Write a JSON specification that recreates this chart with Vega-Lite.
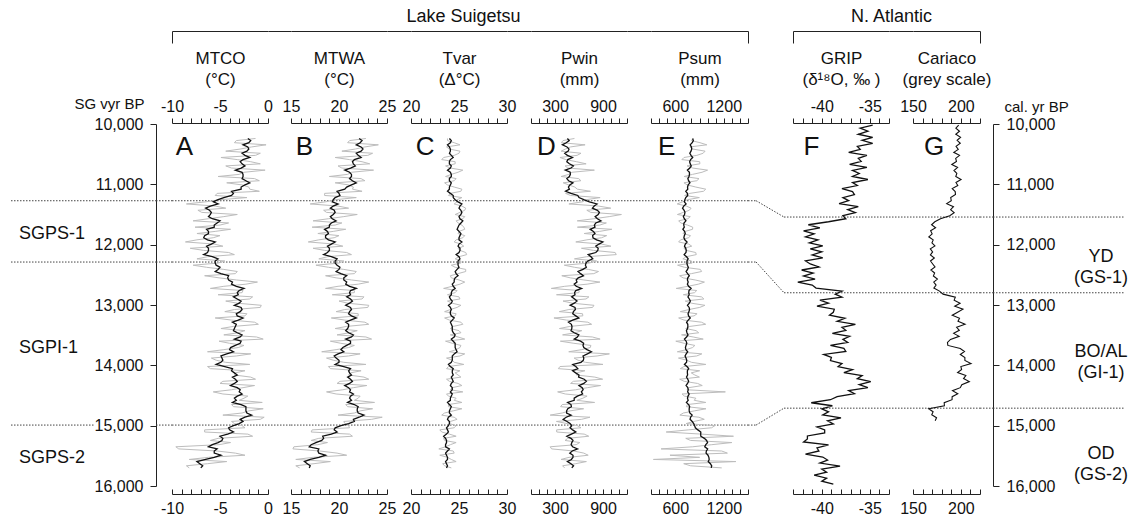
{
"$schema": "https://vega.github.io/schema/vega-lite/v6.json",
"padding": {"left": 10, "top": 7, "right": 0, "bottom": 0},
"background": "white",
"spacing": 0,
"bounds": "flush",
"resolve": {"scale": {"x": "independent", "y": "independent"}},
"config": {
  "font": "Liberation Sans",
  "view": {"stroke": null},
  "axis": {"domainColor": "#222", "tickColor": "#222", "labelColor": "#111", "labelFontSize": 16, "titleFontSize": 17, "titleFontWeight": "normal", "titleColor": "#111", "titleLineHeight": 21, "grid": false, "labelFlush": false, "labelOverlap": false, "domainWidth": 1, "tickWidth": 1},
  "text": {"color": "#111"}
},
"datasets": {
  "bounds": [{"id": 1, "sg": 11272, "cal": 11542}, {"id": 2, "sg": 12288, "cal": 12797}, {"id": 3, "sg": 14990, "cal": 14710}],
  "zones_sg": [{"label": "SGPS-1", "age": 11830}, {"label": "SGPI-1", "age": 13713}, {"label": "SGPS-2", "age": 15536}],
  "zones_cal": [{"label": "YD\n(GS-1)", "age": 12205}, {"label": "BO/AL\n(GI-1)", "age": 13787}, {"label": "OD\n(GS-2)", "age": 15470}],
  "sg": [
{"age":10240,"mtco":-1.3,"mtco_s":-2.1,"mtwa":22.8,"mtwa_s":22.1,"tvar":23.8,"tvar_s":24.0,"pwin":543,"pwin_s":455,"psum":821,"psum_s":815},
{"age":10310,"mtco":-3.5,"mtco_s":-2.0,"mtwa":20.9,"mtwa_s":22.2,"tvar":24.5,"tvar_s":24.1,"pwin":380,"pwin_s":440,"psum":906,"psum_s":810},
{"age":10380,"mtco":-1.7,"mtco_s":-2.1,"mtwa":22.7,"mtwa_s":22.3,"tvar":23.7,"tvar_s":24.0,"pwin":494,"pwin_s":450,"psum":782,"psum_s":800},
{"age":10450,"mtco":-4.4,"mtco_s":-2.2,"mtwa":20.3,"mtwa_s":22.3,"tvar":25.1,"tvar_s":24.1,"pwin":377,"pwin_s":465,"psum":969,"psum_s":795},
{"age":10520,"mtco":-1.3,"mtco_s":-2.4,"mtwa":23.0,"mtwa_s":22.0,"tvar":24.5,"tvar_s":24.2,"pwin":576,"pwin_s":455,"psum":867,"psum_s":795},
{"age":10590,"mtco":-3.2,"mtco_s":-2.6,"mtwa":21.1,"mtwa_s":21.6,"tvar":23.2,"tvar_s":24.1,"pwin":436,"pwin_s":460,"psum":682,"psum_s":790},
{"age":10660,"mtco":-0.8,"mtco_s":-2.7,"mtwa":23.2,"mtwa_s":21.5,"tvar":24.6,"tvar_s":24.0,"pwin":689,"pwin_s":480,"psum":905,"psum_s":785},
{"age":10730,"mtco":-3.8,"mtco_s":-2.8,"mtwa":20.3,"mtwa_s":21.2,"tvar":24.1,"tvar_s":24.1,"pwin":460,"pwin_s":500,"psum":816,"psum_s":780},
{"age":10800,"mtco":-2.5,"mtco_s":-2.7,"mtwa":21.3,"mtwa_s":21.1,"tvar":24.9,"tvar_s":24.1,"pwin":512,"pwin_s":490,"psum":931,"psum_s":775},
{"age":10870,"mtco":-5.2,"mtco_s":-2.6,"mtwa":19.0,"mtwa_s":21.3,"tvar":23.6,"tvar_s":24.2,"pwin":376,"pwin_s":480,"psum":710,"psum_s":770},
{"age":10940,"mtco":-0.9,"mtco_s":-2.3,"mtwa":22.7,"mtwa_s":21.4,"tvar":24.5,"tvar_s":24.0,"pwin":624,"pwin_s":470,"psum":867,"psum_s":765},
{"age":11010,"mtco":-2.7,"mtco_s":-2.4,"mtwa":21.0,"mtwa_s":21.3,"tvar":23.8,"tvar_s":24.1,"pwin":473,"pwin_s":485,"psum":748,"psum_s":760},
{"age":11080,"mtco":-1.9,"mtco_s":-2.8,"mtwa":21.4,"mtwa_s":20.6,"tvar":25.3,"tvar_s":24.0,"pwin":579,"pwin_s":480,"psum":977,"psum_s":755},
{"age":11150,"mtco":-5.3,"mtco_s":-3.6,"mtwa":18.5,"mtwa_s":20.0,"tvar":24.1,"tvar_s":24.1,"pwin":432,"pwin_s":500,"psum":780,"psum_s":750},
{"age":11220,"mtco":-2.2,"mtco_s":-4.6,"mtwa":21.8,"mtwa_s":19.6,"tvar":25.3,"tvar_s":24.4,"pwin":864,"pwin_s":600,"psum":898,"psum_s":730},
{"age":11290,"mtco":-6.5,"mtco_s":-5.7,"mtwa":18.6,"mtwa_s":19.3,"tvar":24.8,"tvar_s":24.9,"pwin":642,"pwin_s":730,"psum":692,"psum_s":712},
{"age":11360,"mtco":-5.5,"mtco_s":-6.0,"mtwa":19.9,"mtwa_s":19.4,"tvar":25.3,"tvar_s":25.1,"pwin":845,"pwin_s":790,"psum":737,"psum_s":705},
{"age":11430,"mtco":-7.3,"mtco_s":-6.1,"mtwa":18.4,"mtwa_s":19.5,"tvar":25.6,"tvar_s":25.2,"pwin":698,"pwin_s":830,"psum":774,"psum_s":710},
{"age":11500,"mtco":-3.2,"mtco_s":-6.0,"mtwa":21.9,"mtwa_s":19.4,"tvar":24.6,"tvar_s":25.2,"pwin":1130,"pwin_s":840,"psum":627,"psum_s":715},
{"age":11570,"mtco":-6.2,"mtco_s":-5.8,"mtwa":18.9,"mtwa_s":19.3,"tvar":25.4,"tvar_s":25.1,"pwin":786,"pwin_s":830,"psum":756,"psum_s":712},
{"age":11640,"mtco":-4.1,"mtco_s":-5.3,"mtwa":20.3,"mtwa_s":19.2,"tvar":24.9,"tvar_s":25.2,"pwin":942,"pwin_s":810,"psum":668,"psum_s":708},
{"age":11710,"mtco":-7.6,"mtco_s":-5.6,"mtwa":17.2,"mtwa_s":19.0,"tvar":25.5,"tvar_s":24.9,"pwin":580,"pwin_s":800,"psum":816,"psum_s":712},
{"age":11780,"mtco":-5.5,"mtco_s":-6.2,"mtwa":19.4,"mtwa_s":18.8,"tvar":25.0,"tvar_s":25.0,"pwin":857,"pwin_s":780,"psum":723,"psum_s":715},
{"age":11850,"mtco":-5.0,"mtco_s":-6.6,"mtwa":20.0,"mtwa_s":18.6,"tvar":25.6,"tvar_s":25.1,"pwin":946,"pwin_s":770,"psum":788,"psum_s":712},
{"age":11920,"mtco":-7.4,"mtco_s":-6.3,"mtwa":17.9,"mtwa_s":18.9,"tvar":24.7,"tvar_s":25.0,"pwin":699,"pwin_s":820,"psum":666,"psum_s":718},
{"age":11990,"mtco":-5.6,"mtco_s":-5.9,"mtwa":19.5,"mtwa_s":19.2,"tvar":25.2,"tvar_s":25.0,"pwin":883,"pwin_s":850,"psum":765,"psum_s":725},
{"age":12060,"mtco":-8.1,"mtco_s":-6.2,"mtwa":17.3,"mtwa_s":19.0,"tvar":24.9,"tvar_s":25.1,"pwin":631,"pwin_s":840,"psum":706,"psum_s":730},
{"age":12130,"mtco":-4.1,"mtco_s":-6.3,"mtwa":20.8,"mtwa_s":18.8,"tvar":25.7,"tvar_s":25.0,"pwin":1052,"pwin_s":810,"psum":853,"psum_s":733},
{"age":12200,"mtco":-6.3,"mtco_s":-5.8,"mtwa":18.8,"mtwa_s":19.2,"tvar":25.0,"tvar_s":25.0,"pwin":695,"pwin_s":750,"psum":736,"psum_s":740},
{"age":12270,"mtco":-4.5,"mtco_s":-5.5,"mtwa":20.5,"mtwa_s":19.6,"tvar":25.2,"tvar_s":24.9,"pwin":820,"pwin_s":710,"psum":801,"psum_s":745},
{"age":12340,"mtco":-7.8,"mtco_s":-5.4,"mtwa":17.6,"mtwa_s":19.8,"tvar":24.2,"tvar_s":24.9,"pwin":416,"pwin_s":680,"psum":629,"psum_s":750},
{"age":12410,"mtco":-4.6,"mtco_s":-5.2,"mtwa":20.5,"mtwa_s":20.0,"tvar":25.7,"tvar_s":24.8,"pwin":716,"pwin_s":650,"psum":911,"psum_s":752},
{"age":12480,"mtco":-3.4,"mtco_s":-4.9,"mtwa":21.6,"mtwa_s":20.2,"tvar":24.9,"tvar_s":24.7,"pwin":785,"pwin_s":620,"psum":800,"psum_s":753},
{"age":12550,"mtco":-5.1,"mtco_s":-4.2,"mtwa":19.7,"mtwa_s":20.5,"tvar":24.2,"tvar_s":24.6,"pwin":491,"pwin_s":590,"psum":697,"psum_s":755},
{"age":12620,"mtco":-1.1,"mtco_s":-3.7,"mtwa":23.1,"mtwa_s":20.8,"tvar":25.6,"tvar_s":24.5,"pwin":861,"pwin_s":575,"psum":961,"psum_s":760},
{"age":12690,"mtco":-4.6,"mtco_s":-3.3,"mtwa":19.9,"mtwa_s":21.1,"tvar":24.3,"tvar_s":24.4,"pwin":422,"pwin_s":565,"psum":756,"psum_s":765},
{"age":12760,"mtco":-2.6,"mtco_s":-3.0,"mtwa":21.6,"mtwa_s":21.2,"tvar":24.8,"tvar_s":24.3,"pwin":604,"pwin_s":560,"psum":866,"psum_s":770},
{"age":12830,"mtco":-5.2,"mtco_s":-3.1,"mtwa":19.3,"mtwa_s":21.2,"tvar":23.8,"tvar_s":24.2,"pwin":319,"pwin_s":550,"psum":700,"psum_s":772},
{"age":12900,"mtco":-1.9,"mtco_s":-3.2,"mtwa":22.4,"mtwa_s":21.2,"tvar":25.1,"tvar_s":24.1,"pwin":688,"pwin_s":545,"psum":954,"psum_s":774},
{"age":12970,"mtco":-3.2,"mtco_s":-3.0,"mtwa":20.9,"mtwa_s":21.1,"tvar":24.3,"tvar_s":24.2,"pwin":518,"pwin_s":540,"psum":800,"psum_s":774},
{"age":13040,"mtco":-0.8,"mtco_s":-2.8,"mtwa":23.0,"mtwa_s":21.2,"tvar":24.8,"tvar_s":24.1,"pwin":770,"pwin_s":550,"psum":903,"psum_s":772},
{"age":13110,"mtco":-4.5,"mtco_s":-2.9,"mtwa":19.7,"mtwa_s":21.1,"tvar":23.5,"tvar_s":24.1,"pwin":354,"pwin_s":530,"psum":663,"psum_s":770},
{"age":13180,"mtco":-2.4,"mtco_s":-3.2,"mtwa":22.0,"mtwa_s":21.3,"tvar":24.6,"tvar_s":24.2,"pwin":648,"pwin_s":560,"psum":833,"psum_s":765},
{"age":13250,"mtco":-3.8,"mtco_s":-3.1,"mtwa":20.6,"mtwa_s":21.2,"tvar":24.0,"tvar_s":24.3,"pwin":443,"pwin_s":520,"psum":709,"psum_s":760},
{"age":13320,"mtco":-1.0,"mtco_s":-3.3,"mtwa":23.1,"mtwa_s":21.0,"tvar":25.4,"tvar_s":24.2,"pwin":758,"pwin_s":505,"psum":977,"psum_s":755},
{"age":13390,"mtco":-4.9,"mtco_s":-3.5,"mtwa":19.6,"mtwa_s":20.9,"tvar":24.1,"tvar_s":24.3,"pwin":356,"pwin_s":510,"psum":729,"psum_s":752},
{"age":13460,"mtco":-3.1,"mtco_s":-3.2,"mtwa":21.1,"mtwa_s":21.0,"tvar":25.2,"tvar_s":24.4,"pwin":551,"pwin_s":540,"psum":890,"psum_s":745},
{"age":13530,"mtco":-1.2,"mtco_s":-2.9,"mtwa":22.8,"mtwa_s":21.3,"tvar":24.9,"tvar_s":24.5,"pwin":767,"pwin_s":580,"psum":822,"psum_s":740},
{"age":13600,"mtco":-5.1,"mtco_s":-2.8,"mtwa":19.1,"mtwa_s":21.2,"tvar":23.6,"tvar_s":24.4,"pwin":367,"pwin_s":620,"psum":607,"psum_s":735},
{"age":13670,"mtco":-2.5,"mtco_s":-3.4,"mtwa":21.6,"mtwa_s":20.8,"tvar":25.2,"tvar_s":24.6,"pwin":749,"pwin_s":650,"psum":843,"psum_s":733},
{"age":13740,"mtco":-4.6,"mtco_s":-4.0,"mtwa":19.7,"mtwa_s":20.2,"tvar":24.7,"tvar_s":24.7,"pwin":634,"pwin_s":700,"psum":737,"psum_s":732},
{"age":13810,"mtco":-1.8,"mtco_s":-4.3,"mtwa":22.2,"mtwa_s":19.9,"tvar":25.6,"tvar_s":24.5,"pwin":980,"pwin_s":705,"psum":929,"psum_s":735},
{"age":13880,"mtco":-5.9,"mtco_s":-4.8,"mtwa":18.7,"mtwa_s":19.7,"tvar":23.7,"tvar_s":24.3,"pwin":539,"pwin_s":660,"psum":640,"psum_s":733},
{"age":13950,"mtco":-4.4,"mtco_s":-4.9,"mtwa":20.5,"mtwa_s":20.0,"tvar":24.5,"tvar_s":24.2,"pwin":680,"pwin_s":625,"psum":801,"psum_s":740},
{"age":14020,"mtco":-6.3,"mtco_s":-4.5,"mtwa":18.9,"mtwa_s":20.5,"tvar":23.9,"tvar_s":24.1,"pwin":362,"pwin_s":560,"psum":708,"psum_s":745},
{"age":14090,"mtco":-2.4,"mtco_s":-3.8,"mtwa":22.3,"mtwa_s":21.0,"tvar":25.1,"tvar_s":24.3,"pwin":674,"pwin_s":520,"psum":902,"psum_s":750},
{"age":14160,"mtco":-3.5,"mtco_s":-3.2,"mtwa":21.0,"mtwa_s":21.3,"tvar":24.9,"tvar_s":24.4,"pwin":567,"pwin_s":600,"psum":842,"psum_s":753},
{"age":14230,"mtco":-1.3,"mtco_s":-3.4,"mtwa":23.1,"mtwa_s":21.2,"tvar":23.7,"tvar_s":24.3,"pwin":896,"pwin_s":665,"psum":655,"psum_s":755},
{"age":14300,"mtco":-5.0,"mtco_s":-3.5,"mtwa":19.8,"mtwa_s":21.1,"tvar":24.9,"tvar_s":24.2,"pwin":495,"pwin_s":660,"psum":876,"psum_s":752},
{"age":14370,"mtco":-2.6,"mtco_s":-3.2,"mtwa":21.5,"mtwa_s":21.0,"tvar":24.3,"tvar_s":24.3,"pwin":706,"pwin_s":640,"psum":767,"psum_s":755},
{"age":14440,"mtco":-5.7,"mtco_s":-3.0,"mtwa":18.7,"mtwa_s":21.1,"tvar":25.4,"tvar_s":24.1,"pwin":333,"pwin_s":630,"psum":1220,"psum_s":753},
{"age":14510,"mtco":-2.1,"mtco_s":-3.2,"mtwa":22.2,"mtwa_s":21.2,"tvar":23.9,"tvar_s":24.2,"pwin":701,"pwin_s":580,"psum":714,"psum_s":758},
{"age":14580,"mtco":-3.0,"mtco_s":-3.3,"mtwa":21.6,"mtwa_s":21.3,"tvar":24.5,"tvar_s":24.1,"pwin":573,"pwin_s":540,"psum":835,"psum_s":760},
{"age":14650,"mtco":-3.8,"mtco_s":-2.8,"mtwa":20.7,"mtwa_s":21.6,"tvar":23.9,"tvar_s":24.0,"pwin":390,"pwin_s":500,"psum":749,"psum_s":765},
{"age":14720,"mtco":-0.5,"mtco_s":-2.3,"mtwa":23.5,"mtwa_s":21.9,"tvar":25.3,"tvar_s":24.1,"pwin":658,"pwin_s":460,"psum":980,"psum_s":772},
{"age":14790,"mtco":-2.7,"mtco_s":-2.2,"mtwa":21.6,"mtwa_s":22.0,"tvar":23.5,"tvar_s":24.0,"pwin":390,"pwin_s":445,"psum":701,"psum_s":780},
{"age":14860,"mtco":-0.4,"mtco_s":-2.4,"mtwa":24.5,"mtwa_s":22.1,"tvar":24.5,"tvar_s":23.9,"pwin":737,"pwin_s":440,"psum":893,"psum_s":790},
{"age":14930,"mtco":-3.8,"mtco_s":-2.6,"mtwa":20.5,"mtwa_s":21.6,"tvar":24.1,"tvar_s":24.0,"pwin":318,"pwin_s":450,"psum":829,"psum_s":810},
{"age":15000,"mtco":-2.7,"mtco_s":-3.6,"mtwa":21.0,"mtwa_s":20.2,"tvar":24.7,"tvar_s":23.9,"pwin":580,"pwin_s":510,"psum":1090,"psum_s":840},
{"age":15070,"mtco":-6.6,"mtco_s":-4.0,"mtwa":17.2,"mtwa_s":19.5,"tvar":23.0,"tvar_s":23.8,"pwin":320,"pwin_s":520,"psum":760,"psum_s":880},
{"age":15140,"mtco":-2.1,"mtco_s":-4.2,"mtwa":21.1,"mtwa_s":19.2,"tvar":24.0,"tvar_s":23.7,"pwin":665,"pwin_s":505,"psum":925,"psum_s":915},
{"age":15210,"mtco":-5.2,"mtco_s":-4.7,"mtwa":17.9,"mtwa_s":18.4,"tvar":23.4,"tvar_s":23.6,"pwin":460,"pwin_s":500,"psum":730,"psum_s":960},
{"age":15280,"mtco":-3.9,"mtco_s":-5.2,"mtwa":18.8,"mtwa_s":17.6,"tvar":24.7,"tvar_s":23.7,"pwin":610,"pwin_s":510,"psum":1300,"psum_s":1000},
{"age":15350,"mtco":-9.6,"mtco_s":-6.2,"mtwa":15.3,"mtwa_s":16.9,"tvar":23.6,"tvar_s":23.6,"pwin":240,"pwin_s":520,"psum":815,"psum_s":965},
{"age":15420,"mtco":-5.3,"mtco_s":-5.6,"mtwa":18.0,"mtwa_s":17.8,"tvar":24.4,"tvar_s":23.8,"pwin":535,"pwin_s":515,"psum":1175,"psum_s":985},
{"age":15490,"mtco":-2.4,"mtco_s":-4.9,"mtwa":20.8,"mtwa_s":18.6,"tvar":23.0,"tvar_s":23.7,"pwin":715,"pwin_s":525,"psum":535,"psum_s":1005},
{"age":15560,"mtco":-8.2,"mtco_s":-6.5,"mtwa":15.5,"mtwa_s":17.0,"tvar":24.2,"tvar_s":23.8,"pwin":375,"pwin_s":505,"psum":330,"psum_s":1020},
{"age":15630,"mtco":-6.3,"mtco_s":-7.1,"mtwa":17.4,"mtwa_s":16.7,"tvar":23.3,"tvar_s":23.7,"pwin":560,"pwin_s":500,"psum":705,"psum_s":1035},
{"age":15700,"mtco":-8.2,"mtco_s":-7.0,"mtwa":15.9,"mtwa_s":16.9,"tvar":24.2,"tvar_s":23.7,"pwin":420,"pwin_s":510,"psum":1175,"psum_s":1045},
{"age":10275,"mtco":-3.3,"mtco_s":-1.8,"mtwa":21.1,"mtwa_s":22.4,"tvar":23.8,"tvar_s":24.2,"pwin":400,"pwin_s":478,"psum":800,"psum_s":824},
{"age":10345,"mtco":-0.2,"mtco_s":-2.6,"mtwa":24.1,"mtwa_s":21.8,"tvar":25.1,"tvar_s":23.8,"pwin":676,"pwin_s":392,"psum":991,"psum_s":784},
{"age":10415,"mtco":-2.9,"mtco_s":-2.0,"mtwa":21.7,"mtwa_s":22.5,"tvar":24.0,"tvar_s":24.1,"pwin":430,"pwin_s":475,"psum":816,"psum_s":804},
{"age":10485,"mtco":-0.8,"mtco_s":-2.7,"mtwa":23.5,"mtwa_s":21.8,"tvar":25.0,"tvar_s":24.0,"pwin":625,"pwin_s":422,"psum":945,"psum_s":780},
{"age":10555,"mtco":-4.9,"mtco_s":-1.9,"mtwa":19.6,"mtwa_s":22.3,"tvar":23.4,"tvar_s":24.4,"pwin":362,"pwin_s":518,"psum":708,"psum_s":816},
{"age":10625,"mtco":-1.8,"mtco_s":-2.9,"mtwa":22.4,"mtwa_s":21.4,"tvar":24.6,"tvar_s":24.0,"pwin":569,"pwin_s":448,"psum":902,"psum_s":778},
{"age":10695,"mtco":-4.4,"mtco_s":-2.4,"mtwa":19.9,"mtwa_s":21.7,"tvar":23.6,"tvar_s":24.2,"pwin":426,"pwin_s":530,"psum":746,"psum_s":798},
{"age":10765,"mtco":-0.3,"mtco_s":-3.4,"mtwa":23.6,"mtwa_s":20.6,"tvar":25.4,"tvar_s":23.8,"pwin":792,"pwin_s":428,"psum":1000,"psum_s":750},
{"age":10835,"mtco":-3.0,"mtco_s":-2.6,"mtwa":20.9,"mtwa_s":21.3,"tvar":24.2,"tvar_s":24.2,"pwin":473,"pwin_s":492,"psum":814,"psum_s":776},
{"age":10905,"mtco":-1.4,"mtco_s":-2.7,"mtwa":22.3,"mtwa_s":21.1,"tvar":24.7,"tvar_s":24.0,"pwin":596,"pwin_s":448,"psum":894,"psum_s":756},
{"age":10975,"mtco":-4.3,"mtco_s":-1.9,"mtwa":19.6,"mtwa_s":21.8,"tvar":23.5,"tvar_s":24.2,"pwin":402,"pwin_s":525,"psum":708,"psum_s":782},
{"age":11045,"mtco":-2.0,"mtco_s":-2.8,"mtwa":21.5,"mtwa_s":20.8,"tvar":24.5,"tvar_s":24.0,"pwin":548,"pwin_s":468,"psum":854,"psum_s":752},
{"age":11115,"mtco":-0.9,"mtco_s":-3.8,"mtwa":22.4,"mtwa_s":19.8,"tvar":25.2,"tvar_s":23.8,"pwin":743,"pwin_s":432,"psum":950,"psum_s":730},
{"age":11185,"mtco":-5.5,"mtco_s":-3.8,"mtwa":18.5,"mtwa_s":20.1,"tvar":23.9,"tvar_s":24.4,"pwin":494,"pwin_s":585,"psum":716,"psum_s":754},
{"age":11255,"mtco":-5.0,"mtco_s":-5.2,"mtwa":19.6,"mtwa_s":19.4,"tvar":24.8,"tvar_s":24.6,"pwin":687,"pwin_s":660,"psum":749,"psum_s":719},
{"age":11325,"mtco":-8.5,"mtco_s":-5.2,"mtwa":17.0,"mtwa_s":19.9,"tvar":24.5,"tvar_s":25.3,"pwin":474,"pwin_s":825,"psum":624,"psum_s":734},
{"age":11395,"mtco":-4.4,"mtco_s":-6.5,"mtwa":21.0,"mtwa_s":19.1,"tvar":25.7,"tvar_s":25.0,"pwin":997,"pwin_s":768,"psum":796,"psum_s":690},
{"age":11465,"mtco":-6.9,"mtco_s":-5.9,"mtwa":18.7,"mtwa_s":19.6,"tvar":25.1,"tvar_s":25.3,"pwin":747,"pwin_s":855,"psum":700,"psum_s":720},
{"age":11535,"mtco":-4.6,"mtco_s":-6.2,"mtwa":20.5,"mtwa_s":19.1,"tvar":25.6,"tvar_s":25.0,"pwin":978,"pwin_s":802,"psum":786,"psum_s":700},
{"age":11605,"mtco":-7.8,"mtco_s":-5.0,"mtwa":17.3,"mtwa_s":19.7,"tvar":24.7,"tvar_s":25.4,"pwin":578,"pwin_s":875,"psum":642,"psum_s":732},
{"age":11675,"mtco":-5.0,"mtco_s":-5.6,"mtwa":19.6,"mtwa_s":19.0,"tvar":25.3,"tvar_s":25.0,"pwin":860,"pwin_s":792,"psum":750,"psum_s":705},
{"age":11745,"mtco":-3.9,"mtco_s":-6.4,"mtwa":20.7,"mtwa_s":18.5,"tvar":25.6,"tvar_s":24.8,"pwin":1010,"pwin_s":740,"psum":814,"psum_s":694},
{"age":11815,"mtco":-7.4,"mtco_s":-6.2,"mtwa":17.8,"mtwa_s":18.9,"tvar":24.9,"tvar_s":25.2,"pwin":665,"pwin_s":800,"psum":694,"psum_s":724},
{"age":11885,"mtco":-5.7,"mtco_s":-6.7,"mtwa":19.5,"mtwa_s":18.6,"tvar":25.4,"tvar_s":25.0,"pwin":883,"pwin_s":775,"psum":767,"psum_s":707},
{"age":11955,"mtco":-8.6,"mtco_s":-5.5,"mtwa":16.8,"mtwa_s":19.6,"tvar":24.5,"tvar_s":25.3,"pwin":560,"pwin_s":898,"psum":642,"psum_s":746},
{"age":12025,"mtco":-4.7,"mtco_s":-6.4,"mtwa":20.4,"mtwa_s":18.8,"tvar":25.5,"tvar_s":24.9,"pwin":999,"pwin_s":810,"psum":804,"psum_s":714},
{"age":12095,"mtco":-6.7,"mtco_s":-6.2,"mtwa":18.5,"mtwa_s":19.0,"tvar":25.1,"tvar_s":25.1,"pwin":781,"pwin_s":835,"psum":736,"psum_s":736},
{"age":12165,"mtco":-3.5,"mtco_s":-6.7,"mtwa":21.3,"mtwa_s":18.4,"tvar":25.8,"tvar_s":24.7,"pwin":1066,"pwin_s":715,"psum":860,"psum_s":710},
{"age":12235,"mtco":-7.4,"mtco_s":-5.2,"mtwa":17.9,"mtwa_s":19.8,"tvar":24.6,"tvar_s":25.1,"pwin":543,"pwin_s":772,"psum":694,"psum_s":760},
{"age":12305,"mtco":-5.2,"mtco_s":-5.5,"mtwa":20.0,"mtwa_s":19.6,"tvar":25.2,"tvar_s":24.9,"pwin":728,"pwin_s":688,"psum":808,"psum_s":744},
{"age":12375,"mtco":-6.4,"mtco_s":-5.0,"mtwa":18.9,"mtwa_s":20.1,"tvar":24.6,"tvar_s":25.0,"pwin":544,"pwin_s":692,"psum":714,"psum_s":762},
{"age":12445,"mtco":-3.2,"mtco_s":-5.5,"mtwa":21.8,"mtwa_s":19.7,"tvar":25.7,"tvar_s":24.6,"pwin":844,"pwin_s":588,"psum":926,"psum_s":734},
{"age":12515,"mtco":-6.6,"mtco_s":-4.1,"mtwa":18.6,"mtwa_s":20.8,"tvar":24.1,"tvar_s":24.9,"pwin":385,"pwin_s":655,"psum":654,"psum_s":774},
{"age":12585,"mtco":-3.3,"mtco_s":-4.1,"mtwa":21.3,"mtwa_s":20.5,"tvar":25.0,"tvar_s":24.5,"pwin":660,"pwin_s":565,"psum":846,"psum_s":750},
{"age":12655,"mtco":-2.3,"mtco_s":-3.8,"mtwa":22.0,"mtwa_s":20.7,"tvar":25.1,"tvar_s":24.3,"pwin":702,"pwin_s":540,"psum":886,"psum_s":750},
{"age":12725,"mtco":-6.0,"mtco_s":-2.5,"mtwa":18.6,"mtwa_s":21.8,"tvar":23.4,"tvar_s":24.6,"pwin":254,"pwin_s":632,"psum":612,"psum_s":796},
{"age":12795,"mtco":-2.7,"mtco_s":-3.2,"mtwa":21.6,"mtwa_s":21.1,"tvar":24.6,"tvar_s":24.2,"pwin":599,"pwin_s":545,"psum":839,"psum_s":767},
{"age":12865,"mtco":-1.6,"mtco_s":-3.6,"mtwa":22.6,"mtwa_s":20.8,"tvar":25.0,"tvar_s":24.0,"pwin":724,"pwin_s":508,"psum":925,"psum_s":757},
{"age":12935,"mtco":-4.4,"mtco_s":-2.8,"mtwa":20.0,"mtwa_s":21.4,"tvar":23.8,"tvar_s":24.3,"pwin":400,"pwin_s":575,"psum":723,"psum_s":787},
{"age":13005,"mtco":-0.7,"mtco_s":-3.5,"mtwa":23.1,"mtwa_s":20.7,"tvar":25.2,"tvar_s":23.9,"pwin":787,"pwin_s":490,"psum":967,"psum_s":751},
{"age":13075,"mtco":-3.5,"mtco_s":-2.7,"mtwa":20.6,"mtwa_s":21.3,"tvar":24.1,"tvar_s":24.2,"pwin":474,"pwin_s":555,"psum":769,"psum_s":777},
{"age":13145,"mtco":-2.2,"mtco_s":-3.3,"mtwa":22.0,"mtwa_s":21.0,"tvar":24.7,"tvar_s":24.1,"pwin":644,"pwin_s":522,"psum":870,"psum_s":758},
{"age":13215,"mtco":-5.5,"mtco_s":-2.6,"mtwa":19.2,"mtwa_s":21.8,"tvar":23.5,"tvar_s":24.5,"pwin":287,"pwin_s":598,"psum":642,"psum_s":786},
{"age":13285,"mtco":-1.4,"mtco_s":-3.7,"mtwa":22.7,"mtwa_s":20.7,"tvar":25.2,"tvar_s":24.1,"pwin":710,"pwin_s":468,"psum":924,"psum_s":740},
{"age":13355,"mtco":-3.6,"mtco_s":-3.4,"mtwa":20.8,"mtwa_s":21.0,"tvar":24.4,"tvar_s":24.3,"pwin":486,"pwin_s":512,"psum":780,"psum_s":756},
{"age":13425,"mtco":-2.4,"mtco_s":-3.6,"mtwa":21.9,"mtwa_s":20.7,"tvar":25.0,"tvar_s":24.3,"pwin":635,"pwin_s":500,"psum":858,"psum_s":738},
{"age":13495,"mtco":-4.6,"mtco_s":-2.7,"mtwa":19.8,"mtwa_s":21.5,"tvar":24.1,"tvar_s":24.6,"pwin":395,"pwin_s":598,"psum":678,"psum_s":758},
{"age":13565,"mtco":-0.5,"mtco_s":-3.5,"mtwa":23.4,"mtwa_s":20.7,"tvar":25.6,"tvar_s":24.2,"pwin":864,"pwin_s":540,"psum":946,"psum_s":714},
{"age":13635,"mtco":-4.0,"mtco_s":-2.9,"mtwa":20.2,"mtwa_s":21.2,"tvar":24.3,"tvar_s":24.6,"pwin":536,"pwin_s":658,"psum":711,"psum_s":743},
{"age":13705,"mtco":-3.1,"mtco_s":-3.9,"mtwa":21.0,"mtwa_s":20.4,"tvar":25.1,"tvar_s":24.6,"pwin":741,"pwin_s":660,"psum":814,"psum_s":726},
{"age":13775,"mtco":-6.3,"mtco_s":-3.6,"mtwa":18.2,"mtwa_s":20.5,"tvar":24.0,"tvar_s":24.8,"pwin":472,"pwin_s":755,"psum":626,"psum_s":754},
{"age":13845,"mtco":-3.3,"mtco_s":-4.9,"mtwa":21.0,"mtwa_s":19.5,"tvar":25.1,"tvar_s":24.3,"pwin":826,"pwin_s":650,"psum":865,"psum_s":721},
{"age":13915,"mtco":-5.4,"mtco_s":-4.7,"mtwa":19.4,"mtwa_s":20.0,"tvar":24.3,"tvar_s":24.3,"pwin":588,"pwin_s":655,"psum":742,"psum_s":742},
{"age":13985,"mtco":-1.9,"mtco_s":-5.4,"mtwa":22.8,"mtwa_s":19.6,"tvar":25.5,"tvar_s":23.9,"pwin":900,"pwin_s":522,"psum":978,"psum_s":714},
{"age":14055,"mtco":-6.0,"mtco_s":-3.7,"mtwa":19.1,"mtwa_s":21.2,"tvar":23.7,"tvar_s":24.4,"pwin":342,"pwin_s":585,"psum":662,"psum_s":766},
{"age":14125,"mtco":-3.4,"mtco_s":-3.5,"mtwa":21.2,"mtwa_s":21.1,"tvar":24.6,"tvar_s":24.3,"pwin":571,"pwin_s":558,"psum":798,"psum_s":750},
{"age":14195,"mtco":-1.8,"mtco_s":-3.7,"mtwa":22.6,"mtwa_s":20.9,"tvar":25.2,"tvar_s":24.2,"pwin":798,"pwin_s":595,"psum":899,"psum_s":739},
{"age":14265,"mtco":-4.7,"mtco_s":-3.2,"mtwa":20.1,"mtwa_s":21.4,"tvar":24.0,"tvar_s":24.4,"pwin":530,"pwin_s":692,"psum":710,"psum_s":766},
{"age":14335,"mtco":-1.4,"mtco_s":-3.9,"mtwa":22.9,"mtwa_s":20.6,"tvar":25.3,"tvar_s":24.1,"pwin":870,"pwin_s":600,"psum":934,"psum_s":734},
{"age":14405,"mtco":-3.8,"mtco_s":-2.9,"mtwa":20.4,"mtwa_s":21.2,"tvar":24.1,"tvar_s":24.3,"pwin":558,"pwin_s":652,"psum":745,"psum_s":761},
{"age":14475,"mtco":-4.7,"mtco_s":-2.7,"mtwa":19.7,"mtwa_s":21.5,"tvar":23.7,"tvar_s":24.3,"pwin":429,"pwin_s":645,"psum":684,"psum_s":772},
{"age":14545,"mtco":-2.5,"mtco_s":-3.5,"mtwa":22.0,"mtwa_s":21.1,"tvar":24.7,"tvar_s":24.1,"pwin":648,"pwin_s":540,"psum":855,"psum_s":751},
{"age":14615,"mtco":-0.6,"mtco_s":-3.7,"mtwa":23.7,"mtwa_s":20.9,"tvar":25.3,"tvar_s":23.8,"pwin":795,"pwin_s":458,"psum":978,"psum_s":738},
{"age":14685,"mtco":-3.6,"mtco_s":-2.3,"mtwa":20.9,"mtwa_s":22.0,"tvar":23.9,"tvar_s":24.2,"pwin":370,"pwin_s":505,"psum":738,"psum_s":778},
{"age":14755,"mtco":-2.0,"mtco_s":-2.3,"mtwa":22.2,"mtwa_s":21.9,"tvar":24.4,"tvar_s":24.0,"pwin":486,"pwin_s":445,"psum":837,"psum_s":773},
{"age":14825,"mtco":-4.7,"mtco_s":-1.7,"mtwa":19.9,"mtwa_s":22.6,"tvar":23.2,"tvar_s":24.2,"pwin":240,"pwin_s":502,"psum":657,"psum_s":809},
{"age":14895,"mtco":-0.8,"mtco_s":-2.9,"mtwa":23.4,"mtwa_s":21.5,"tvar":24.8,"tvar_s":23.8,"pwin":632,"pwin_s":402,"psum":959,"psum_s":783},
{"age":14965,"mtco":-3.5,"mtco_s":-3.0,"mtwa":20.6,"mtwa_s":21.0,"tvar":24.0,"tvar_s":24.0,"pwin":450,"pwin_s":488,"psum":735,"psum_s":828},
{"age":15035,"mtco":-2.4,"mtco_s":-4.1,"mtwa":21.1,"mtwa_s":19.6,"tvar":24.5,"tvar_s":23.7,"pwin":625,"pwin_s":488,"psum":1050,"psum_s":849},
{"age":15105,"mtco":-6.6,"mtco_s":-3.6,"mtwa":17.1,"mtwa_s":19.8,"tvar":23.2,"tvar_s":23.9,"pwin":322,"pwin_s":560,"psum":488,"psum_s":916},
{"age":15175,"mtco":-1.6,"mtco_s":-5.0,"mtwa":21.4,"mtwa_s":18.3,"tvar":24.7,"tvar_s":23.4,"pwin":722,"pwin_s":448,"psum":1320,"psum_s":916},
{"age":15245,"mtco":-6.0,"mtco_s":-4.8,"mtwa":17.1,"mtwa_s":18.2,"tvar":23.5,"tvar_s":23.7,"pwin":425,"pwin_s":525,"psum":790,"psum_s":988},
{"age":15315,"mtco":-5.1,"mtco_s":-5.8,"mtwa":17.8,"mtwa_s":17.1,"tvar":24.1,"tvar_s":23.6,"pwin":565,"pwin_s":502,"psum":1052,"psum_s":978},
{"age":15385,"mtco":-9.3,"mtco_s":-5.3,"mtwa":15.2,"mtwa_s":17.9,"tvar":22.9,"tvar_s":24.0,"pwin":258,"pwin_s":582,"psum":425,"psum_s":1001},
{"age":15455,"mtco":-3.4,"mtco_s":-5.6,"mtwa":19.8,"mtwa_s":17.9,"tvar":24.5,"tvar_s":23.6,"pwin":660,"pwin_s":485,"psum":1245,"psum_s":981},
{"age":15525,"mtco":-6.2,"mtco_s":-5.6,"mtwa":17.3,"mtwa_s":17.9,"tvar":23.8,"tvar_s":23.8,"pwin":475,"pwin_s":525,"psum":902,"psum_s":1016},
{"age":15595,"mtco":-4.3,"mtco_s":-7.4,"mtwa":19.1,"mtwa_s":16.4,"tvar":24.7,"tvar_s":23.6,"pwin":692,"pwin_s":455,"psum":1350,"psum_s":1008},
{"age":15665,"mtco":-8.5,"mtco_s":-6.8,"mtwa":15.5,"mtwa_s":17.0,"tvar":23.5,"tvar_s":23.8,"pwin":395,"pwin_s":532,"psum":790,"psum_s":1051}
  ],
  "grip": [
{"age":10020,"d18o":-34.7},{"age":10070,"d18o":-36.0},{"age":10120,"d18o":-35.2},{"age":10170,"d18o":-36.2},{"age":10220,"d18o":-34.7},{"age":10270,"d18o":-35.8},{"age":10320,"d18o":-34.7},{"age":10370,"d18o":-36.3},{"age":10420,"d18o":-36.0},{"age":10470,"d18o":-37.2},
{"age":10520,"d18o":-35.3},{"age":10570,"d18o":-36.2},{"age":10620,"d18o":-35.9},{"age":10670,"d18o":-37.1},{"age":10720,"d18o":-35.3},{"age":10770,"d18o":-36.8},{"age":10820,"d18o":-36.1},{"age":10870,"d18o":-36.8},{"age":10920,"d18o":-35.2},{"age":10970,"d18o":-36.8},
{"age":11020,"d18o":-36.3},{"age":11070,"d18o":-37.9},{"age":11120,"d18o":-36.8},{"age":11170,"d18o":-36.6},{"age":11220,"d18o":-37.8},{"age":11270,"d18o":-37.2},{"age":11320,"d18o":-38.2},{"age":11370,"d18o":-36.2},{"age":11420,"d18o":-37.3},{"age":11470,"d18o":-36.5},
{"age":11520,"d18o":-37.8},{"age":11570,"d18o":-37.5},{"age":11620,"d18o":-39.3},{"age":11670,"d18o":-41.4},{"age":11720,"d18o":-40.2},{"age":11770,"d18o":-41.9},{"age":11820,"d18o":-40.8},{"age":11870,"d18o":-41.7},{"age":11920,"d18o":-40.4},{"age":11970,"d18o":-41.3},
{"age":12020,"d18o":-39.9},{"age":12070,"d18o":-41.2},{"age":12120,"d18o":-40.0},{"age":12170,"d18o":-41.0},{"age":12220,"d18o":-39.9},{"age":12270,"d18o":-41.7},{"age":12320,"d18o":-41.2},{"age":12370,"d18o":-40.3},{"age":12420,"d18o":-42.1},{"age":12470,"d18o":-40.9},
{"age":12520,"d18o":-41.9},{"age":12570,"d18o":-40.7},{"age":12620,"d18o":-42.5},{"age":12670,"d18o":-41.0},{"age":12720,"d18o":-40.6},{"age":12770,"d18o":-37.9},{"age":12820,"d18o":-38.6},{"age":12870,"d18o":-37.9},{"age":12920,"d18o":-40.2},{"age":12970,"d18o":-39.3},
{"age":13020,"d18o":-40.5},{"age":13070,"d18o":-38.7},{"age":13120,"d18o":-38.8},{"age":13170,"d18o":-39.2},{"age":13220,"d18o":-37.6},{"age":13270,"d18o":-38.4},{"age":13320,"d18o":-36.5},{"age":13370,"d18o":-37.9},{"age":13420,"d18o":-37.5},{"age":13470,"d18o":-38.9},
{"age":13520,"d18o":-37.1},{"age":13570,"d18o":-37.8},{"age":13620,"d18o":-37.3},{"age":13670,"d18o":-39.1},{"age":13720,"d18o":-37.7},{"age":13770,"d18o":-37.5},{"age":13820,"d18o":-39.8},{"age":13870,"d18o":-39.0},{"age":13920,"d18o":-39.1},{"age":13970,"d18o":-37.9},
{"age":14020,"d18o":-38.3},{"age":14070,"d18o":-36.8},{"age":14120,"d18o":-37.7},{"age":14170,"d18o":-35.8},{"age":14220,"d18o":-36.3},{"age":14270,"d18o":-34.9},{"age":14320,"d18o":-36.1},{"age":14370,"d18o":-35.2},{"age":14420,"d18o":-37.2},{"age":14470,"d18o":-36.6},
{"age":14520,"d18o":-38.4},{"age":14570,"d18o":-39.1},{"age":14620,"d18o":-41.1},{"age":14670,"d18o":-38.9},{"age":14720,"d18o":-40.0},{"age":14770,"d18o":-39.3},{"age":14820,"d18o":-39.9},{"age":14870,"d18o":-38.0},{"age":14920,"d18o":-39.4},{"age":14970,"d18o":-38.8},
{"age":15020,"d18o":-40.5},{"age":15070,"d18o":-39.7},{"age":15120,"d18o":-39.7},{"age":15170,"d18o":-41.5},{"age":15220,"d18o":-41.5},{"age":15270,"d18o":-41.9},{"age":15320,"d18o":-39.3},{"age":15370,"d18o":-40.5},{"age":15420,"d18o":-40.3},{"age":15470,"d18o":-41.7},
{"age":15520,"d18o":-39.9},{"age":15570,"d18o":-39.4},{"age":15620,"d18o":-40.2},{"age":15670,"d18o":-38.1},{"age":15720,"d18o":-40.0},{"age":15770,"d18o":-39.5},{"age":15820,"d18o":-40.8},{"age":15870,"d18o":-39.5},{"age":15920,"d18o":-40.0},{"age":15970,"d18o":-38.8}
  ],
  "cariaco": [
{"age":10020,"grey":197.7},{"age":10070,"grey":194.8},{"age":10120,"grey":198.6},{"age":10170,"grey":194.7},{"age":10220,"grey":199.7},{"age":10270,"grey":196.1},{"age":10320,"grey":199.4},{"age":10370,"grey":195.0},{"age":10420,"grey":197.3},{"age":10470,"grey":192.6},
{"age":10520,"grey":198.6},{"age":10570,"grey":194.6},{"age":10620,"grey":195.4},{"age":10670,"grey":190.5},{"age":10720,"grey":196.6},{"age":10770,"grey":192.8},{"age":10820,"grey":195.8},{"age":10870,"grey":194.7},{"age":10920,"grey":200.2},{"age":10970,"grey":194.9},
{"age":11020,"grey":196.8},{"age":11070,"grey":191.0},{"age":11120,"grey":194.1},{"age":11170,"grey":194.4},{"age":11220,"grey":189.4},{"age":11270,"grey":190.0},{"age":11320,"grey":185.2},{"age":11370,"grey":192.3},{"age":11420,"grey":189.3},{"age":11470,"grey":193.0},
{"age":11520,"grey":188.4},{"age":11570,"grey":178.7},{"age":11620,"grey":172.8},{"age":11670,"grey":169.4},{"age":11720,"grey":173.6},{"age":11770,"grey":168.4},{"age":11820,"grey":170.0},{"age":11870,"grey":166.5},{"age":11920,"grey":171.1},{"age":11970,"grey":169.8},
{"age":12020,"grey":172.9},{"age":12070,"grey":168.1},{"age":12120,"grey":170.5},{"age":12170,"grey":168.2},{"age":12220,"grey":172.3},{"age":12270,"grey":168.3},{"age":12320,"grey":170.6},{"age":12370,"grey":173.0},{"age":12420,"grey":168.7},{"age":12470,"grey":172.6},
{"age":12520,"grey":171.3},{"age":12570,"grey":175.5},{"age":12620,"grey":171.7},{"age":12670,"grey":174.1},{"age":12720,"grey":171.8},{"age":12770,"grey":177.7},{"age":12820,"grey":181.4},{"age":12870,"grey":194.2},{"age":12920,"grey":193.0},{"age":12970,"grey":199.2},
{"age":13020,"grey":193.6},{"age":13070,"grey":202.2},{"age":13120,"grey":196.6},{"age":13170,"grey":191.0},{"age":13220,"grey":198.6},{"age":13270,"grey":197.0},{"age":13320,"grey":204.4},{"age":13370,"grey":195.6},{"age":13420,"grey":198.4},{"age":13470,"grey":192.5},
{"age":13520,"grey":198.2},{"age":13570,"grey":189.2},{"age":13620,"grey":186.0},{"age":13670,"grey":186.4},{"age":13720,"grey":199.4},{"age":13770,"grey":203.8},{"age":13820,"grey":199.4},{"age":13870,"grey":204.2},{"age":13920,"grey":204.2},{"age":13970,"grey":210.6},
{"age":14020,"grey":200.0},{"age":14070,"grey":200.8},{"age":14120,"grey":196.6},{"age":14170,"grey":205.2},{"age":14220,"grey":202.8},{"age":14270,"grey":208.8},{"age":14320,"grey":201.0},{"age":14370,"grey":199.4},{"age":14420,"grey":191.3},{"age":14470,"grey":196.8},
{"age":14520,"grey":190.9},{"age":14570,"grey":190.8},{"age":14620,"grey":182.6},{"age":14670,"grey":182.8},{"age":14720,"grey":166.4},{"age":14770,"grey":171.0},{"age":14820,"grey":169.6},{"age":14870,"grey":174.6},{"age":14920,"grey":173.2}
  ]
},
"hconcat": [
  {"width": 145, "height": 362, "layer": [
    {"data": {"name": "bounds"}, "transform": [{"filter": "datum.id < 3"}], "mark": {"type": "rule", "color": "#444", "strokeDash": [1.5, 1.5], "strokeWidth": 1},
     "encoding": {"x": {"datum": 0, "type": "quantitative", "scale": {"domain": [0, 1]}, "axis": null}, "x2": {"datum": 1},
                  "y": {"field": "sg", "type": "quantitative", "scale": {"domain": [10000, 16000], "reverse": true, "nice": false, "zero": false}, "axis": null}}},
    {"data": {"name": "bounds"}, "transform": [{"filter": "datum.id == 3"}], "mark": {"type": "rule", "color": "#444", "strokeDash": [1.5, 1.5], "strokeWidth": 1},
     "encoding": {"x": {"datum": 0, "type": "quantitative", "axis": null}, "x2": {"datum": 0.57},
                  "y": {"field": "sg", "type": "quantitative", "axis": null}}},
    {"data": {"name": "zones_sg"}, "mark": {"type": "text", "align": "left", "baseline": "middle", "fontSize": 18},
     "encoding": {"x": {"datum": 0.055, "type": "quantitative", "axis": null}, "y": {"field": "age", "type": "quantitative", "axis": null}, "text": {"field": "label"}}}
  ]},
  {"width": 16, "height": 362, "data": {"name": "bounds"}, "mark": {"type": "rule", "color": "#444", "strokeDash": [1.5, 1.5], "strokeWidth": 1},
   "encoding": {"x": {"datum": 0, "type": "quantitative", "scale": {"domain": [0, 1]}, "axis": null}, "x2": {"datum": 1},
                "y": {"field": "sg", "type": "quantitative", "scale": {"domain": [10000, 16000], "reverse": true, "nice": false, "zero": false},
                      "axis": {"orient": "left", "values": [10000, 11000, 12000, 13000, 14000, 15000, 16000], "format": ",d", "tickSize": 6, "labelPadding": 7, "title": "SG vyr BP", "titleAngle": 0, "titleAlign": "right", "titleBaseline": "alphabetic", "titleX": -12, "titleY": -16, "titleFontSize": 15}}}},
  {"width": 96, "height": 362, "resolve": {"axis": {"x": "independent"}}, "layer": [
    {"data": {"name": "bounds"}, "mark": {"type": "rule", "color": "#444", "strokeDash": [1.5, 1.5], "strokeWidth": 1},
     "encoding": {"x": {"datum": -10, "type": "quantitative", "scale": {"domain": [-10, 0], "nice": false, "zero": false}, "axis": {"orient": "top", "offset": 93, "labels": false, "ticks": true, "values": [-10], "tickSize": -12, "title": null}},
                  "x2": {"datum": 0},
                  "y": {"field": "sg", "type": "quantitative", "scale": {"domain": [10000, 16000], "reverse": true, "nice": false, "zero": false}, "axis": null}}},
    {"data": {"name": "sg"}, "mark": {"type": "line", "color": "#bdbdbd", "strokeWidth": 1},
     "encoding": {"x": {"field": "mtco", "type": "quantitative", "axis": {"orient": "top", "offset": 1, "values": [-10,-9,-8,-7,-6,-5,-4,-3,-2,-1,0], "labelExpr": "datum.value % 5 === 0 ? '' + datum.value : ''", "title": ["MTCO", "(°C)"], "tickSize": 5, "labelPadding": 4, "titlePadding": 10}},
                  "y": {"field": "age", "type": "quantitative", "axis": null}, "order": {"field": "age", "type": "quantitative"}}},
    {"data": {"name": "sg"}, "mark": {"type": "line", "color": "#111", "strokeWidth": 1.3},
     "encoding": {"x": {"field": "mtco_s", "type": "quantitative", "axis": {"orient": "bottom", "offset": 8, "values": [-10,-9,-8,-7,-6,-5,-4,-3,-2,-1,0], "labelExpr": "datum.value % 5 === 0 ? '' + datum.value : ''", "title": null, "tickSize": -5, "labelPadding": 11}},
                  "y": {"field": "age", "type": "quantitative", "axis": null}, "order": {"field": "age", "type": "quantitative"}}},
    {"data": {"values": [{"letter": "A"}]}, "mark": {"type": "text", "fontSize": 26, "align": "left", "baseline": "middle"},
     "encoding": {"x": {"datum": -9.6, "type": "quantitative", "axis": null}, "y": {"datum": 10380, "type": "quantitative", "axis": null}, "text": {"field": "letter"}}}
  ]},
  {"width": 23, "height": 362, "data": {"name": "bounds"}, "mark": {"type": "rule", "color": "#444", "strokeDash": [1.5, 1.5], "strokeWidth": 1},
   "encoding": {"x": {"datum": 0, "type": "quantitative", "scale": {"domain": [0, 1]}, "axis": {"orient": "top", "offset": 93, "labels": false, "ticks": false, "title": null}}, "x2": {"datum": 1},
                "y": {"field": "sg", "type": "quantitative", "scale": {"domain": [10000, 16000], "reverse": true, "nice": false, "zero": false}, "axis": null}}},
  {"width": 96, "height": 362, "resolve": {"axis": {"x": "independent"}}, "layer": [
    {"data": {"name": "bounds"}, "mark": {"type": "rule", "color": "#444", "strokeDash": [1.5, 1.5], "strokeWidth": 1},
     "encoding": {"x": {"datum": 15, "type": "quantitative", "scale": {"domain": [15, 25], "nice": false, "zero": false}, "axis": {"orient": "top", "offset": 93, "labels": false, "ticks": false, "title": null}},
                  "x2": {"datum": 25},
                  "y": {"field": "sg", "type": "quantitative", "scale": {"domain": [10000, 16000], "reverse": true, "nice": false, "zero": false}, "axis": null}}},
    {"data": {"name": "sg"}, "mark": {"type": "line", "color": "#bdbdbd", "strokeWidth": 1},
     "encoding": {"x": {"field": "mtwa", "type": "quantitative", "axis": {"orient": "top", "offset": 1, "values": [15,16,17,18,19,20,21,22,23,24,25], "labelExpr": "datum.value % 5 === 0 ? '' + datum.value : ''", "title": ["MTWA", "(°C)"], "tickSize": 5, "labelPadding": 4, "titlePadding": 10}},
                  "y": {"field": "age", "type": "quantitative", "axis": null}, "order": {"field": "age", "type": "quantitative"}}},
    {"data": {"name": "sg"}, "mark": {"type": "line", "color": "#111", "strokeWidth": 1.3},
     "encoding": {"x": {"field": "mtwa_s", "type": "quantitative", "axis": {"orient": "bottom", "offset": 8, "values": [15,16,17,18,19,20,21,22,23,24,25], "labelExpr": "datum.value % 5 === 0 ? '' + datum.value : ''", "title": null, "tickSize": -5, "labelPadding": 11}},
                  "y": {"field": "age", "type": "quantitative", "axis": null}, "order": {"field": "age", "type": "quantitative"}}},
    {"data": {"values": [{"letter": "B"}]}, "mark": {"type": "text", "fontSize": 26, "align": "left", "baseline": "middle"},
     "encoding": {"x": {"datum": 15.5, "type": "quantitative", "axis": null}, "y": {"datum": 10380, "type": "quantitative", "axis": null}, "text": {"field": "letter"}}}
  ]},
  {"width": 24, "height": 362, "data": {"name": "bounds"}, "mark": {"type": "rule", "color": "#444", "strokeDash": [1.5, 1.5], "strokeWidth": 1},
   "encoding": {"x": {"datum": 0, "type": "quantitative", "scale": {"domain": [0, 1]}, "axis": {"orient": "top", "offset": 93, "labels": false, "ticks": false, "title": null}}, "x2": {"datum": 1},
                "y": {"field": "sg", "type": "quantitative", "scale": {"domain": [10000, 16000], "reverse": true, "nice": false, "zero": false}, "axis": null}}},
  {"width": 96, "height": 362, "resolve": {"axis": {"x": "independent"}}, "layer": [
    {"data": {"name": "bounds"}, "mark": {"type": "rule", "color": "#444", "strokeDash": [1.5, 1.5], "strokeWidth": 1},
     "encoding": {"x": {"datum": 20, "type": "quantitative", "scale": {"domain": [20, 30], "nice": false, "zero": false}, "axis": {"orient": "top", "offset": 93, "labels": false, "ticks": false, "title": "Lake Suigetsu", "titleX": 52, "titleY": -10, "titleAlign": "center", "titleBaseline": "alphabetic", "titleFontSize": 18, "titleLimit": 400}},
                  "x2": {"datum": 30},
                  "y": {"field": "sg", "type": "quantitative", "scale": {"domain": [10000, 16000], "reverse": true, "nice": false, "zero": false}, "axis": null}}},
    {"data": {"name": "sg"}, "mark": {"type": "line", "color": "#bdbdbd", "strokeWidth": 1},
     "encoding": {"x": {"field": "tvar", "type": "quantitative", "axis": {"orient": "top", "offset": 1, "values": [20,21,22,23,24,25,26,27,28,29,30], "labelExpr": "datum.value % 5 === 0 ? '' + datum.value : ''", "title": ["Tvar", "(Δ°C)"], "tickSize": 5, "labelPadding": 4, "titlePadding": 10}},
                  "y": {"field": "age", "type": "quantitative", "axis": null}, "order": {"field": "age", "type": "quantitative"}}},
    {"data": {"name": "sg"}, "mark": {"type": "line", "color": "#111", "strokeWidth": 1.3},
     "encoding": {"x": {"field": "tvar_s", "type": "quantitative", "axis": {"orient": "bottom", "offset": 8, "values": [20,21,22,23,24,25,26,27,28,29,30], "labelExpr": "datum.value % 5 === 0 ? '' + datum.value : ''", "title": null, "tickSize": -5, "labelPadding": 11}},
                  "y": {"field": "age", "type": "quantitative", "axis": null}, "order": {"field": "age", "type": "quantitative"}}},
    {"data": {"values": [{"letter": "C"}]}, "mark": {"type": "text", "fontSize": 26, "align": "left", "baseline": "middle"},
     "encoding": {"x": {"datum": 20.5, "type": "quantitative", "axis": null}, "y": {"datum": 10380, "type": "quantitative", "axis": null}, "text": {"field": "letter"}}}
  ]},
  {"width": 24, "height": 362, "data": {"name": "bounds"}, "mark": {"type": "rule", "color": "#444", "strokeDash": [1.5, 1.5], "strokeWidth": 1},
   "encoding": {"x": {"datum": 0, "type": "quantitative", "scale": {"domain": [0, 1]}, "axis": {"orient": "top", "offset": 93, "labels": false, "ticks": false, "title": null}}, "x2": {"datum": 1},
                "y": {"field": "sg", "type": "quantitative", "scale": {"domain": [10000, 16000], "reverse": true, "nice": false, "zero": false}, "axis": null}}},
  {"width": 96, "height": 362, "resolve": {"axis": {"x": "independent"}}, "layer": [
    {"data": {"name": "bounds"}, "mark": {"type": "rule", "color": "#444", "strokeDash": [1.5, 1.5], "strokeWidth": 1},
     "encoding": {"x": {"datum": 0, "type": "quantitative", "scale": {"domain": [0, 1200], "nice": false, "zero": false}, "axis": {"orient": "top", "offset": 93, "labels": false, "ticks": false, "title": null}},
                  "x2": {"datum": 1200},
                  "y": {"field": "sg", "type": "quantitative", "scale": {"domain": [10000, 16000], "reverse": true, "nice": false, "zero": false}, "axis": null}}},
    {"data": {"name": "sg"}, "mark": {"type": "line", "color": "#bdbdbd", "strokeWidth": 1},
     "encoding": {"x": {"field": "pwin", "type": "quantitative", "axis": {"orient": "top", "offset": 1, "values": [0,100,200,300,400,500,600,700,800,900,1000,1100,1200], "labelExpr": "datum.value == 300 || datum.value == 900 ? '' + datum.value : ''", "title": ["Pwin", "(mm)"], "tickSize": 5, "labelPadding": 4, "titlePadding": 10}},
                  "y": {"field": "age", "type": "quantitative", "axis": null}, "order": {"field": "age", "type": "quantitative"}}},
    {"data": {"name": "sg"}, "mark": {"type": "line", "color": "#111", "strokeWidth": 1.3},
     "encoding": {"x": {"field": "pwin_s", "type": "quantitative", "axis": {"orient": "bottom", "offset": 8, "values": [0,100,200,300,400,500,600,700,800,900,1000,1100,1200], "labelExpr": "datum.value == 300 || datum.value == 900 ? '' + datum.value : ''", "title": null, "tickSize": -5, "labelPadding": 11}},
                  "y": {"field": "age", "type": "quantitative", "axis": null}, "order": {"field": "age", "type": "quantitative"}}},
    {"data": {"values": [{"letter": "D"}]}, "mark": {"type": "text", "fontSize": 26, "align": "left", "baseline": "middle"},
     "encoding": {"x": {"datum": 75, "type": "quantitative", "axis": null}, "y": {"datum": 10380, "type": "quantitative", "axis": null}, "text": {"field": "letter"}}}
  ]},
  {"width": 24, "height": 362, "data": {"name": "bounds"}, "mark": {"type": "rule", "color": "#444", "strokeDash": [1.5, 1.5], "strokeWidth": 1},
   "encoding": {"x": {"datum": 0, "type": "quantitative", "scale": {"domain": [0, 1]}, "axis": {"orient": "top", "offset": 93, "labels": false, "ticks": false, "title": null}}, "x2": {"datum": 1},
                "y": {"field": "sg", "type": "quantitative", "scale": {"domain": [10000, 16000], "reverse": true, "nice": false, "zero": false}, "axis": null}}},
  {"width": 97, "height": 362, "resolve": {"axis": {"x": "independent"}}, "layer": [
    {"data": {"name": "bounds"}, "mark": {"type": "rule", "color": "#444", "strokeDash": [1.5, 1.5], "strokeWidth": 1},
     "encoding": {"x": {"datum": 300, "type": "quantitative", "scale": {"domain": [300, 1500], "nice": false, "zero": false}, "axis": {"orient": "top", "offset": 93, "labels": false, "ticks": true, "values": [1500], "tickSize": -12, "title": null}},
                  "x2": {"datum": 1500},
                  "y": {"field": "sg", "type": "quantitative", "scale": {"domain": [10000, 16000], "reverse": true, "nice": false, "zero": false}, "axis": null}}},
    {"data": {"name": "sg"}, "mark": {"type": "line", "color": "#bdbdbd", "strokeWidth": 1},
     "encoding": {"x": {"field": "psum", "type": "quantitative", "axis": {"orient": "top", "offset": 1, "values": [300,400,500,600,700,800,900,1000,1100,1200,1300,1400,1500], "labelExpr": "datum.value == 600 || datum.value == 1200 ? '' + datum.value : ''", "title": ["Psum", "(mm)"], "tickSize": 5, "labelPadding": 4, "titlePadding": 10}},
                  "y": {"field": "age", "type": "quantitative", "axis": null}, "order": {"field": "age", "type": "quantitative"}}},
    {"data": {"name": "sg"}, "mark": {"type": "line", "color": "#111", "strokeWidth": 1.3},
     "encoding": {"x": {"field": "psum_s", "type": "quantitative", "axis": {"orient": "bottom", "offset": 8, "values": [300,400,500,600,700,800,900,1000,1100,1200,1300,1400,1500], "labelExpr": "datum.value == 600 || datum.value == 1200 ? '' + datum.value : ''", "title": null, "tickSize": -5, "labelPadding": 11}},
                  "y": {"field": "age", "type": "quantitative", "axis": null}, "order": {"field": "age", "type": "quantitative"}}},
    {"data": {"values": [{"letter": "E"}]}, "mark": {"type": "text", "fontSize": 26, "align": "left", "baseline": "middle"},
     "encoding": {"x": {"datum": 387, "type": "quantitative", "axis": null}, "y": {"datum": 10380, "type": "quantitative", "axis": null}, "text": {"field": "letter"}}}
  ]},
  {"width": 45, "height": 362, "data": {"name": "bounds"}, "layer": [
    {"mark": {"type": "rule", "color": "#444", "strokeDash": [1.5, 1.5], "strokeWidth": 1},
     "encoding": {"x": {"datum": 0, "type": "quantitative", "scale": {"domain": [0, 1]}, "axis": null}, "x2": {"datum": 0.18},
                  "y": {"field": "sg", "type": "quantitative", "scale": {"domain": [10000, 16000], "reverse": true, "nice": false, "zero": false}, "axis": null}}},
    {"mark": {"type": "rule", "color": "#444", "strokeDash": [1.5, 1.5], "strokeWidth": 1},
     "encoding": {"x": {"datum": 0.18, "type": "quantitative", "axis": null}, "x2": {"datum": 0.8},
                  "y": {"field": "sg", "type": "quantitative", "axis": null}, "y2": {"field": "cal"}}},
    {"mark": {"type": "rule", "color": "#444", "strokeDash": [1.5, 1.5], "strokeWidth": 1},
     "encoding": {"x": {"datum": 0.8, "type": "quantitative", "axis": null}, "x2": {"datum": 1},
                  "y": {"field": "cal", "type": "quantitative", "axis": null}}}
  ]},
  {"width": 96, "height": 362, "resolve": {"axis": {"x": "independent"}}, "layer": [
    {"data": {"name": "bounds"}, "mark": {"type": "rule", "color": "#444", "strokeDash": [1.5, 1.5], "strokeWidth": 1},
     "encoding": {"x": {"datum": -43, "type": "quantitative", "scale": {"domain": [-43, -33], "nice": false, "zero": false}, "axis": {"orient": "top", "offset": 93, "labels": false, "ticks": true, "values": [-43], "tickSize": -12, "title": null}},
                  "x2": {"datum": -33},
                  "y": {"field": "cal", "type": "quantitative", "scale": {"domain": [10000, 16000], "reverse": true, "nice": false, "zero": false}, "axis": null}}},
    {"data": {"name": "grip"}, "mark": {"type": "line", "color": "#111", "strokeWidth": 1.3},
     "encoding": {"x": {"field": "d18o", "type": "quantitative", "axis": {"orient": "top", "offset": 1, "values": [-43,-42,-41,-40,-39,-38,-37,-36,-35,-34,-33], "labelExpr": "datum.value % 5 === 0 ? '' + datum.value : ''", "title": ["GRIP", "(δ¹⁸O, ‰ )"], "tickSize": 5, "labelPadding": 4, "titlePadding": 10}},
                  "y": {"field": "age", "type": "quantitative", "axis": null}, "order": {"field": "age", "type": "quantitative"}}},
    {"data": {"values": [{"letter": "F"}]}, "mark": {"type": "text", "fontSize": 26, "align": "left", "baseline": "middle"},
     "encoding": {"x": {"datum": -41.9, "type": "quantitative", "axis": {"orient": "bottom", "offset": 8, "values": [-43,-42,-41,-40,-39,-38,-37,-36,-35,-34,-33], "labelExpr": "datum.value % 5 === 0 ? '' + datum.value : ''", "title": null, "tickSize": -5, "labelPadding": 11}},
                  "y": {"datum": 10380, "type": "quantitative", "axis": null}, "text": {"field": "letter"}}}
  ]},
  {"width": 24, "height": 362, "data": {"name": "bounds"}, "mark": {"type": "rule", "color": "#444", "strokeDash": [1.5, 1.5], "strokeWidth": 1},
   "encoding": {"x": {"datum": 0, "type": "quantitative", "scale": {"domain": [0, 1]}, "axis": {"orient": "top", "offset": 93, "labels": false, "ticks": false, "title": "N. Atlantic", "titleX": 2, "titleY": -10, "titleAlign": "center", "titleBaseline": "alphabetic", "titleFontSize": 18, "titleLimit": 400}}, "x2": {"datum": 1},
                "y": {"field": "cal", "type": "quantitative", "scale": {"domain": [10000, 16000], "reverse": true, "nice": false, "zero": false}, "axis": null}}},
  {"width": 67, "height": 362, "resolve": {"axis": {"x": "independent"}}, "layer": [
    {"data": {"name": "bounds"}, "mark": {"type": "rule", "color": "#444", "strokeDash": [1.5, 1.5], "strokeWidth": 1},
     "encoding": {"x": {"datum": 150, "type": "quantitative", "scale": {"domain": [150, 220], "nice": false, "zero": false}, "axis": {"orient": "top", "offset": 93, "labels": false, "ticks": true, "values": [220], "tickSize": -12, "title": null}},
                  "x2": {"datum": 220},
                  "y": {"field": "cal", "type": "quantitative", "scale": {"domain": [10000, 16000], "reverse": true, "nice": false, "zero": false}, "axis": null}}},
    {"data": {"name": "cariaco"}, "mark": {"type": "line", "color": "#111", "strokeWidth": 1.1},
     "encoding": {"x": {"field": "grey", "type": "quantitative", "axis": {"orient": "top", "offset": 1, "values": [150,160,170,180,190,200,210,220], "labelExpr": "datum.value == 150 || datum.value == 200 ? '' + datum.value : ''", "title": ["Cariaco", "(grey scale)"], "tickSize": 5, "labelPadding": 4, "titlePadding": 10}},
                  "y": {"field": "age", "type": "quantitative", "axis": null}, "order": {"field": "age", "type": "quantitative"}}},
    {"data": {"values": [{"letter": "G"}]}, "mark": {"type": "text", "fontSize": 26, "align": "left", "baseline": "middle"},
     "encoding": {"x": {"datum": 161.5, "type": "quantitative", "axis": {"orient": "bottom", "offset": 8, "values": [150,160,170,180,190,200,210,220], "labelExpr": "datum.value == 150 || datum.value == 200 ? '' + datum.value : ''", "title": null, "tickSize": -5, "labelPadding": 11}},
                  "y": {"datum": 10380, "type": "quantitative", "axis": null}, "text": {"field": "letter"}}}
  ]},
  {"width": 13, "height": 362, "data": {"name": "bounds"}, "mark": {"type": "rule", "color": "#444", "strokeDash": [1.5, 1.5], "strokeWidth": 1},
   "encoding": {"x": {"datum": 0, "type": "quantitative", "scale": {"domain": [0, 1]}, "axis": null}, "x2": {"datum": 1},
                "y": {"field": "cal", "type": "quantitative", "scale": {"domain": [10000, 16000], "reverse": true, "nice": false, "zero": false},
                      "axis": {"orient": "right", "values": [10000, 11000, 12000, 13000, 14000, 15000, 16000], "format": ",d", "tickSize": 6, "labelPadding": 7, "title": "cal. yr BP", "titleAngle": 0, "titleAlign": "left", "titleBaseline": "alphabetic", "titleX": 11, "titleY": -13, "titleFontSize": 15}}}},
  {"width": 131, "height": 362, "layer": [
    {"data": {"name": "bounds"}, "mark": {"type": "rule", "color": "#444", "strokeDash": [1.5, 1.5], "strokeWidth": 1},
     "encoding": {"x": {"datum": 0, "type": "quantitative", "scale": {"domain": [0, 1]}, "axis": null}, "x2": {"datum": 1},
                  "y": {"field": "cal", "type": "quantitative", "scale": {"domain": [10000, 16000], "reverse": true, "nice": false, "zero": false}, "axis": null}}},
    {"data": {"name": "zones_cal"}, "mark": {"type": "text", "align": "center", "baseline": "middle", "fontSize": 18, "lineBreak": "\n", "lineHeight": 21},
     "encoding": {"x": {"datum": 0.824, "type": "quantitative", "axis": null}, "y": {"field": "age", "type": "quantitative", "axis": null}, "text": {"field": "label"}}}
  ]}
]
}
